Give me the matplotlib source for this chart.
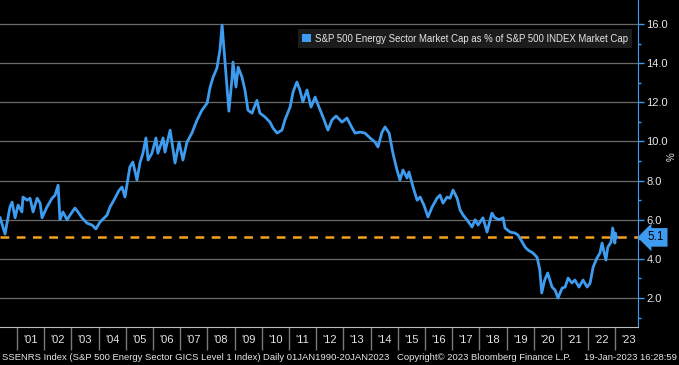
import matplotlib
matplotlib.use("Agg")
import matplotlib.pyplot as plt
from matplotlib.patches import Patch
from matplotlib.ticker import FixedLocator, NullFormatter

plt.rcParams['font.family'] = ['Liberation Sans', 'DejaVu Sans']

# decimal years and energy sector weight (%)
years = [2000.38, 2000.56, 2000.74, 2000.82, 2000.93, 2001.04, 2001.18, 2001.22, 2001.37, 2001.48,
         2001.59, 2001.74, 2001.85, 2001.92, 2002.10, 2002.29, 2002.40, 2002.51, 2002.58, 2002.69,
         2002.84, 2002.95, 2003.13, 2003.24, 2003.39, 2003.57, 2003.76, 2003.90, 2004.05, 2004.31,
         2004.42, 2004.60, 2004.75, 2004.86, 2004.97, 2005.15, 2005.26, 2005.41, 2005.52, 2005.63,
         2005.74, 2005.82, 2005.96, 2006.11, 2006.18, 2006.37, 2006.44, 2006.63, 2006.74, 2006.81,
         2006.96, 2007.10, 2007.25, 2007.43, 2007.62, 2007.80, 2007.99, 2008.10, 2008.21, 2008.35,
         2008.46, 2008.54, 2008.65, 2008.72, 2008.79, 2008.90, 2008.94, 2009.05, 2009.13, 2009.27,
         2009.38, 2009.49, 2009.64, 2009.82, 2009.93, 2010.12, 2010.30, 2010.41, 2010.56, 2010.74,
         2010.85, 2011.04, 2011.15, 2011.29, 2011.40, 2011.51, 2011.66, 2011.81, 2011.96, 2012.10,
         2012.25, 2012.43, 2012.58, 2012.73, 2012.84, 2012.95, 2013.13, 2013.32, 2013.43, 2013.61,
         2013.79, 2013.98, 2014.16, 2014.27, 2014.42, 2014.53, 2014.68, 2014.82, 2014.97, 2015.08,
         2015.19, 2015.34, 2015.41, 2015.56, 2015.71, 2015.82, 2015.96, 2016.11, 2016.26, 2016.44,
         2016.55, 2016.66, 2016.81, 2016.92, 2017.03, 2017.18, 2017.29, 2017.40, 2017.54, 2017.73,
         2017.84, 2017.95, 2018.13, 2018.28, 2018.46, 2018.57, 2018.72, 2018.87, 2018.94, 2019.13,
         2019.31, 2019.42, 2019.57, 2019.68, 2019.79, 2019.97, 2020.12, 2020.22, 2020.29, 2020.40,
         2020.51, 2020.67, 2020.78, 2020.89, 2021.04, 2021.15, 2021.26, 2021.40, 2021.51, 2021.66,
         2021.81, 2021.96, 2022.07, 2022.18, 2022.32, 2022.43, 2022.51, 2022.58, 2022.65, 2022.72,
         2022.84, 2022.90, 2022.95, 2022.98, 2023.00, 2023.03, 2023.05]
weight = [6.10, 5.27, 6.65, 6.90, 6.10, 6.75, 6.40, 7.16, 7.00, 7.10,
          6.40, 7.10, 6.85, 6.10, 6.65, 7.10, 7.26, 7.77, 6.00, 6.40,
          6.00, 6.24, 6.60, 6.40, 6.10, 5.83, 5.73, 5.53, 5.88, 6.24,
          6.65, 7.10, 7.50, 7.67, 7.16, 8.70, 8.95, 8.03, 8.90, 9.40,
          10.18, 9.05, 9.40, 10.18, 9.40, 10.18, 9.46, 10.58, 9.56, 8.90,
          9.97, 9.05, 9.97, 10.43, 11.10, 11.60, 11.96, 12.78, 13.29, 13.75,
          14.67, 15.95, 14.00, 12.78, 11.55, 13.14, 14.06, 12.78, 13.80, 13.29,
          12.63, 11.60, 11.45, 12.10, 11.45, 11.25, 10.99, 10.69, 10.43, 10.58,
          11.10, 11.76, 12.53, 13.04, 12.63, 12.02, 12.63, 11.76, 12.27, 11.76,
          11.25, 10.58, 11.10, 11.30, 11.15, 10.99, 11.20, 10.69, 10.43, 10.48,
          10.43, 10.18, 9.97, 9.72, 10.48, 10.74, 10.43, 9.40, 8.54, 8.03,
          8.54, 8.13, 8.44, 7.67, 7.00, 7.16, 6.75, 6.14, 6.65, 7.10,
          7.26, 6.85, 7.16, 7.10, 7.52, 7.10, 6.50, 6.24, 6.00, 5.63,
          6.00, 5.73, 6.10, 5.37, 6.34, 6.10, 6.00, 6.10, 5.58, 5.37,
          5.32, 5.22, 4.86, 4.60, 4.45, 4.30, 4.08, 3.45, 2.26, 2.92,
          3.28, 2.56, 2.41, 2.00, 2.51, 2.56, 3.02, 2.77, 2.92, 2.56,
          2.92, 2.56, 2.77, 3.58, 4.04, 4.30, 4.81, 4.35, 3.94, 4.60,
          4.86, 5.58, 5.12, 4.81, 5.32, 5.07, 5.10]
last_value = 5.1
year_labels = ["'%02d" % (y % 100) for y in range(2001, 2024)]
legend_label = "S&P 500 Energy Sector Market Cap as % of S&P 500 INDEX Market Cap"

line_blue = '#3d9cf0'
fig = plt.figure(figsize=(6.79, 3.65), dpi=100, facecolor='black')
ax = fig.add_axes([0, 1 - 327 / 365, 638 / 679, 327 / 365])
ax.set_facecolor('black')

ax.set_xlim(2000.375, 2023.83)
ax.set_ylim(0.52, 17.23)

for g in range(2, 17, 2):
    ax.axhline(g, color='#6a6a6a', lw=0.9, zorder=1)

ax.plot(years, weight, color=line_blue, lw=2.0, zorder=3)
ax.axhline(last_value, color='#f5a020', lw=1.8, ls=(0, (3.5, 3)), zorder=2)

# right axis
ax.yaxis.tick_right()
ax.set_yticks(range(2, 17, 2))
ax.set_yticklabels(['%.1f' % v for v in range(2, 17, 2)])
ax.yaxis.set_minor_locator(FixedLocator(range(1, 17, 2)))
ax.tick_params(axis='y', which='major', colors=line_blue, labelcolor='#e6e6e6',
               labelsize=8, length=4, width=1, pad=2)
ax.tick_params(axis='y', which='minor', colors=line_blue, length=2.5, width=1)
ax.text(1.052, 0.52, '%', transform=ax.transAxes, rotation=90, color='#e6e6e6',
        fontsize=7, ha='center', va='center')

# x axis: separators at year boundaries, labels at mid-year
ax.set_xticks(range(2001, 2024))
ax.xaxis.set_major_formatter(NullFormatter())
ax.set_xticks([y + 0.5 for y in range(2001, 2024)], minor=True)
ax.set_xticklabels(year_labels, minor=True)
ax.tick_params(axis='x', which='major', direction='out', length=16.5, width=1, colors='#7a7a7a')
ax.tick_params(axis='x', which='minor', length=0, labelsize=8, labelcolor='#e6e6e6', pad=6)

for s in ['top', 'left']:
    ax.spines[s].set_visible(False)
ax.spines['bottom'].set_color('#bdbdbd')
ax.spines['right'].set_color(line_blue)

# last value tag
ax.annotate('%.1f' % last_value, xy=(1.0, last_value), xycoords=('axes fraction', 'data'),
            xytext=(7, 0), textcoords='offset points', ha='left', va='center',
            fontsize=8.5, color='black', annotation_clip=False,
            bbox=dict(boxstyle='larrow,pad=0.28', fc=line_blue, ec='none'))

leg = ax.legend(handles=[Patch(facecolor=line_blue, edgecolor='none', label=legend_label)],
                loc='upper right', bbox_to_anchor=(0.998, 0.925), fontsize=6.9,
                handlelength=0.9, handleheight=0.9, handletextpad=0.4, borderpad=0.45,
                fancybox=False, framealpha=1)
leg.get_frame().set_facecolor('#1c1c1c')
leg.get_frame().set_edgecolor('none')
for t in leg.get_texts():
    t.set_color('#e6e6e6')

# footer
foot_y = 1 - 357 / 365
fig.text(2 / 679, foot_y, 'SSENRS Index (S&P 500 Energy Sector GICS Level 1 Index)',
         color='#e6e6e6', fontsize=6.8, va='center')
fig.text(263 / 679, foot_y, 'Daily 01JAN1990-20JAN2023', color='#e6e6e6', fontsize=6.8, va='center')
fig.text(397 / 679, foot_y, 'Copyright\u00a9 2023 Bloomberg Finance L.P.', color='#e6e6e6',
         fontsize=6.8, va='center')
fig.text(677 / 679, foot_y, '19-Jan-2023 16:28:59', color='#e6e6e6', fontsize=6.8,
         va='center', ha='right')

fig.savefig('out.png', dpi=100, facecolor='black')
